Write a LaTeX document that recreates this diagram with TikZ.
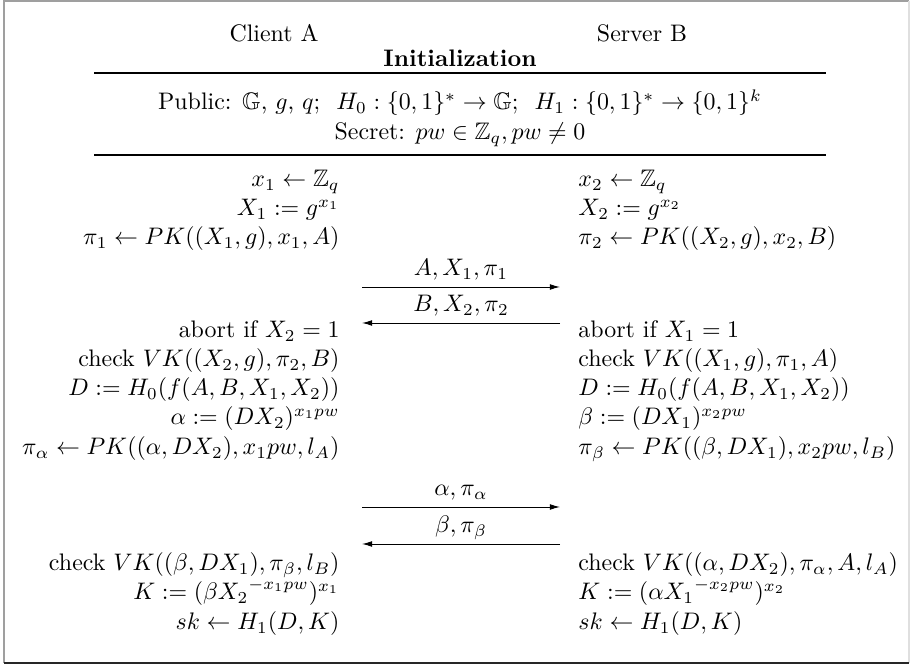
\documentclass[tikz,border=0pt]{standalone}
\usepackage{amsmath,amssymb}
\usetikzlibrary{arrows.meta}
\begin{document}
\begin{tikzpicture}[x=0.4184pt,y=-0.4184pt,
  lcol/.style={anchor=base east,inner sep=0pt},
  rcol/.style={anchor=base west,inner sep=0pt},
  ctext/.style={anchor=base,inner sep=0pt},
  rulebar/.style={line width=0.7pt},
  msg/.style={line width=0.4pt,-{Latex[length=4.2pt,width=2.4pt]}},
  msglabel/.style={anchor=base,inner sep=0pt,yshift=4.8pt}]
\useasboundingbox (0,0) rectangle (910,665);
% outer frame
\draw[gray!75,line width=0.6pt] (4,663) -- (4,1) -- (909,1);
\draw[gray!25,line width=0.6pt] (909,1) -- (909,663);
\draw[black!85,line width=0.6pt] (4,663) -- (909,663);

% parties and header
\node[ctext] (client) at (274,42) {Client A};
\node[ctext] (server) at (642,42) {Server B};
\node[ctext] (init) at (460,67) {\textbf{Initialization}};
\coordinate (r1a) at (94,73);
\coordinate (r1b) at (826,73);
\draw[rulebar] (r1a) -- (r1b);
\node[ctext] (public) at (460,110) {Public: $\mathbb{G}$, $g$, $q$;\ \ $H_0:\{0,1\}^*\to\mathbb{G}$;\ \ $H_1:\{0,1\}^*\to\{0,1\}^k$};
\node[ctext] (secret) at (460,140) {Secret: $pw\in\mathbb{Z}_q, pw\neq 0$};
\coordinate (r2a) at (94,155);
\coordinate (r2b) at (826,155);
\draw[rulebar] (r2a) -- (r2b);

% round 1
\node[lcol] (a1) at (340,187) {$x_1\leftarrow\mathbb{Z}_q$};
\node[lcol] (a2) at (340,216) {$X_1:=g^{x_1}$};
\node[lcol] (a3) at (340,245) {$\pi_1\leftarrow PK((X_1,g),x_1,A)$};
\node[rcol] (b1) at (578,187) {$x_2\leftarrow\mathbb{Z}_q$};
\node[rcol] (b2) at (578,216) {$X_2:=g^{x_2}$};
\node[rcol] (b3) at (578,245) {$\pi_2\leftarrow PK((X_2,g),x_2,B)$};

\coordinate (m1l) at (362,287);
\coordinate (m1r) at (560,287);
\coordinate (m2l) at (362,323);
\coordinate (m2r) at (560,323);
\draw[msg] (m1l) -- node[msglabel] (l1) {$A,X_1,\pi_1$} (m1r);
\draw[msg] (m2r) -- node[msglabel] (l2) {$B,X_2,\pi_2$} (m2l);

% round 2
\node[lcol] (a4) at (340,338) {abort if $X_2=1$};
\node[lcol] (a5) at (340,367) {check $VK((X_2,g),\pi_2,B)$};
\node[lcol] (a6) at (340,396) {$D:=H_0(f(A,B,X_1,X_2))$};
\node[lcol] (a7) at (340,425) {$\alpha:=(DX_2)^{x_1pw}$};
\node[lcol] (a8) at (340,455) {$\pi_\alpha\leftarrow PK((\alpha,DX_2),x_1pw,l_A)$};
\node[rcol] (b4) at (578,338) {abort if $X_1=1$};
\node[rcol] (b5) at (578,367) {check $VK((X_1,g),\pi_1,A)$};
\node[rcol] (b6) at (578,396) {$D:=H_0(f(A,B,X_1,X_2))$};
\node[rcol] (b7) at (578,425) {$\beta:=(DX_1)^{x_2pw}$};
\node[rcol] (b8) at (578,455) {$\pi_\beta\leftarrow PK((\beta,DX_1),x_2pw,l_B)$};

\coordinate (m3l) at (362,507);
\coordinate (m3r) at (560,507);
\coordinate (m4l) at (362,544);
\coordinate (m4r) at (560,544);
\draw[msg] (m3l) -- node[msglabel] (l3) {$\alpha,\pi_\alpha$} (m3r);
\draw[msg] (m4r) -- node[msglabel] (l4) {$\beta,\pi_\beta$} (m4l);

% round 3
\node[lcol] (a9) at (340,571) {check $VK((\beta,DX_1),\pi_\beta,l_B)$};
\node[lcol] (a10) at (340,600) {$K:=(\beta {X_2}^{-x_1pw})^{x_1}$};
\node[lcol] (a11) at (340,630) {$sk\leftarrow H_1(D,K)$};
\node[rcol] (b9) at (578,571) {check $VK((\alpha,DX_2),\pi_\alpha,A,l_A)$};
\node[rcol] (b10) at (578,600) {$K:=(\alpha {X_1}^{-x_2pw})^{x_2}$};
\node[rcol] (b11) at (578,630) {$sk\leftarrow H_1(D,K)$};
\end{tikzpicture}
\end{document}
